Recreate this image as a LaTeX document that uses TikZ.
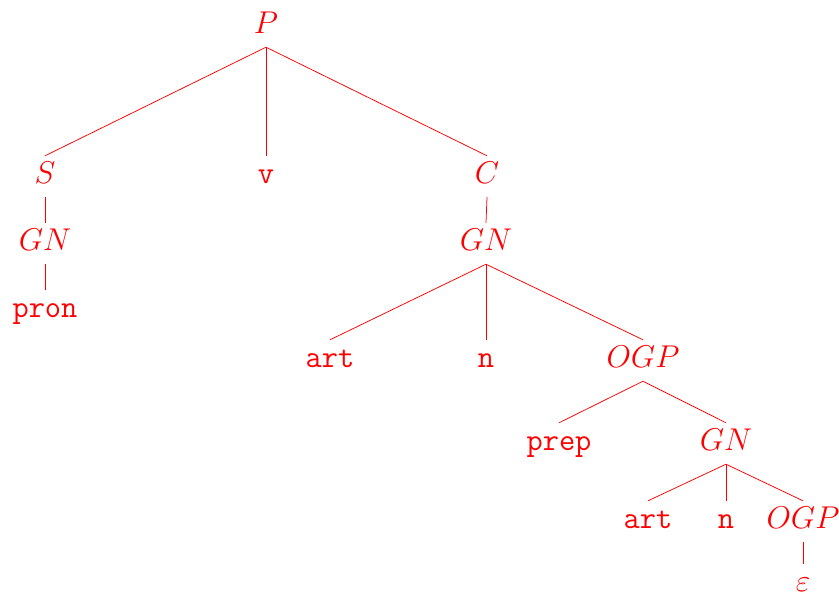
\RequirePackage{fix-cm}
\documentclass[tikz,border=0pt]{standalone}
\begin{document}
\begin{tikzpicture}[x=1pt,y=-1pt,
  tn/.style={text=red, inner sep=0pt, anchor=base, text height=27pt, text depth=14pt, font=\fontsize{31.5}{38}\selectfont},
  br/.style={draw=red, line width=0.75pt}]
\useasboundingbox (0,0) rectangle (839,595);
\node[tn] (P) at (266,33) {$P$};
\node[tn] (S) at (45,183) {$S$};
\node[tn] (v) at (266,183) {\texttt{v}};
\node[tn] (C) at (487,183) {$C$};
\node[tn] (GNa) at (45,250) {$GN$};
\node[tn] (pron) at (45,317) {\texttt{pron}};
\node[tn] (GNb) at (486,250) {$GN$};
\node[tn] (arta) at (330,367) {\texttt{art}};
\node[tn] (na) at (486,367) {\texttt{n}};
\node[tn] (OGPa) at (643,367) {$OGP$};
\node[tn] (prep) at (559,450) {\texttt{prep}};
\node[tn] (GNc) at (726,450) {$GN$};
\node[tn] (artb) at (648,528) {\texttt{art}};
\node[tn] (nb) at (726,528) {\texttt{n}};
\node[tn] (OGPb) at (803,528) {$OGP$};
\node[tn, text depth=1pt] (eps) at (803,591) {$\varepsilon$};
\draw[br] (P.south) -- (S.north);
\draw[br] (P.south) -- (v.north);
\draw[br] (P.south) -- (C.north);
\draw[br] (S.south) -- (GNa.north);
\draw[br] (GNa.south) -- (pron.north);
\draw[br] (C.south) -- (GNb.north);
\draw[br] (GNb.south) -- (arta.north);
\draw[br] (GNb.south) -- (na.north);
\draw[br] (GNb.south) -- (OGPa.north);
\draw[br] (OGPa.south) -- (prep.north);
\draw[br] (OGPa.south) -- (GNc.north);
\draw[br] (GNc.south) -- (artb.north);
\draw[br] (GNc.south) -- (nb.north);
\draw[br] (GNc.south) -- (OGPb.north);
\draw[br] (OGPb.south) -- (eps.north);
\end{tikzpicture}
\end{document}
